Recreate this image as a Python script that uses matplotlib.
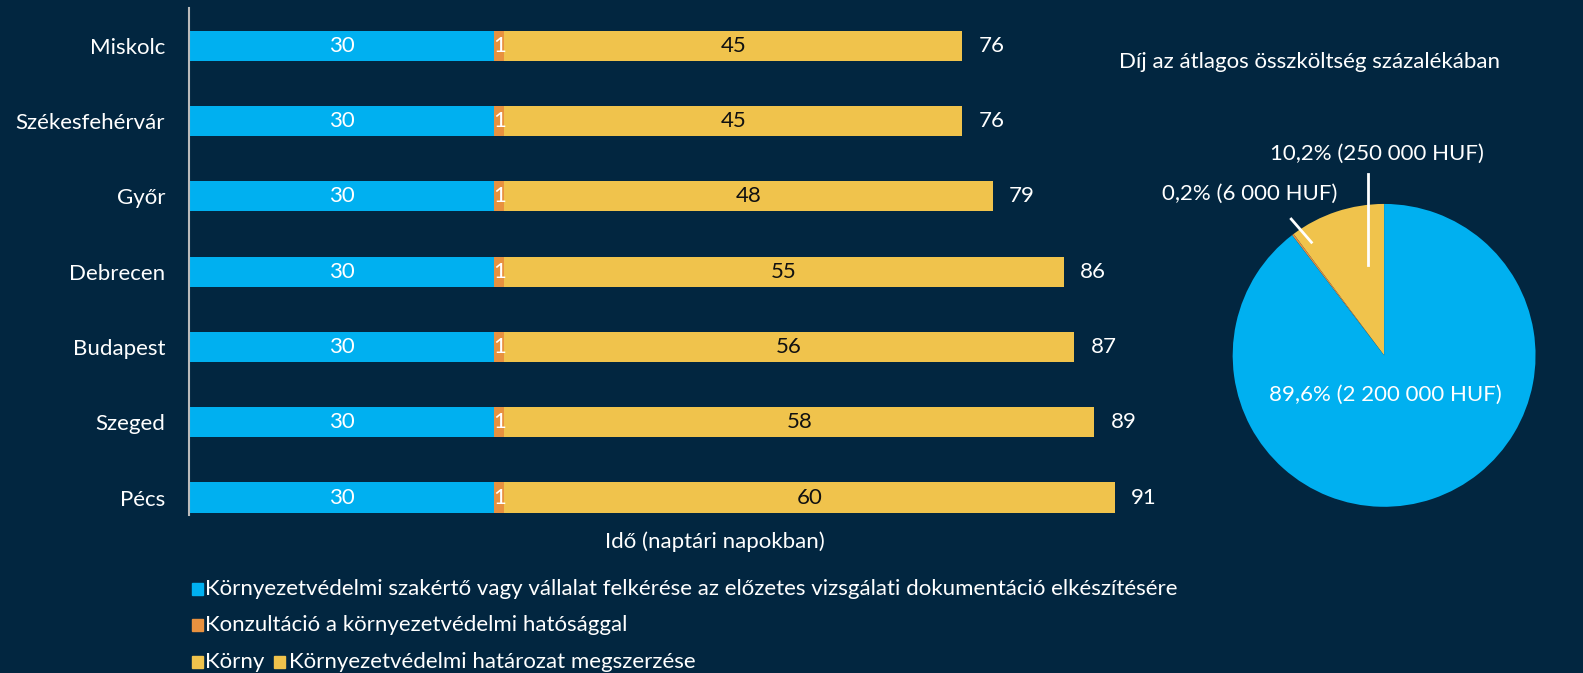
import matplotlib.pyplot as plt

plt.rcParams['font.family'] = ['Lato', 'DejaVu Sans']

cities = ['Miskolc', 'Székesfehérvár', 'Győr', 'Debrecen', 'Budapest', 'Szeged', 'Pécs']
expert = [30, 30, 30, 30, 30, 30, 30]
consult = [1, 1, 1, 1, 1, 1, 1]
permit = [45, 45, 48, 55, 56, 58, 60]
totals = [76, 76, 79, 86, 87, 89, 91]

pie_vals = [10.2, 0.2, 89.6]
pie_labels = ['10,2% (250 000 HUF)', '0,2% (6 000 HUF)', '89,6% (2 200 000 HUF)']

legend_labels = [
    'Környezetvédelmi szakértő vagy vállalat felkérése az előzetes vizsgálati dokumentáció elkészítésére',
    'Konzultáció a környezetvédelmi hatósággal',
    'Környezetvédelmi határozat megszerzése',
]

bg = '#022640'
blue = '#00B0F0'
orange = '#E8913F'
yellow = '#F0C34C'
fs = 16

W, H = 1583, 673
S = W / 1568  # coordinates below were read on the 1568-wide preview


def fx(px):
    return px * S / W


def fy(py):
    return 1 - py * S / H


fig = plt.figure(figsize=(15.83, 6.73), dpi=100, facecolor=bg)

# bar chart
ax_l, ax_r, ax_t, ax_b = 187, 1229, 8, 510
ax = fig.add_axes([fx(ax_l), fy(ax_b), fx(ax_r) - fx(ax_l), fy(ax_t) - fy(ax_b)])
ax.set_facecolor(bg)
y = list(range(len(cities)))
left2 = [a + b for a, b in zip(expert, consult)]
ax.barh(y, expert, height=0.4, color=blue)
ax.barh(y, consult, left=expert, height=0.4, color=orange)
ax.barh(y, permit, left=left2, height=0.4, color=yellow)

for i in y:
    ax.text(expert[i] / 2, i, str(expert[i]), color='white', ha='center', va='center', fontsize=fs)
    ax.text(expert[i] - 0.05, i, str(consult[i]), color='white', ha='left', va='center', fontsize=fs)
    ax.text(left2[i] + permit[i] / 2, i, str(permit[i]), color='#111111', ha='center', va='center', fontsize=fs)
    ax.text(totals[i] + 1.6, i, str(totals[i]), color='white', ha='left', va='center', fontsize=fs)

ax.set_xlim(0, (ax_r - ax_l) / 10.08)
ax.set_ylim(6.23, -0.5)
ax.set_yticks(y)
ax.set_yticklabels(cities, color='white', fontsize=fs)
ax.tick_params(axis='y', length=0, pad=17)
ax.set_xticks([])
for s in ['top', 'right', 'bottom']:
    ax.spines[s].set_visible(False)
ax.spines['left'].set_color('#BBBBBB')
ax.spines['left'].set_linewidth(1.5)
ax.set_xlabel('Idő (naptári napokban)', color='white', fontsize=fs, labelpad=12)

# pie chart
pax = fig.add_axes([fx(1221), fy(502), fx(1521) - fx(1221), fy(202) - fy(502)])
pax.set_facecolor(bg)
pax.pie(pie_vals, colors=[yellow, orange, blue], startangle=90, counterclock=True,
        wedgeprops=dict(linewidth=0))
pax.set_xlim(-1, 1)
pax.set_ylim(-1, 1)
pax.set_aspect('equal')
pax.axis('off')

fig.text(fx(1297), fy(61), 'Díj az átlagos összköltség százalékában', color='white', fontsize=fs,
         ha='center', va='center')
fig.text(fx(1364), fy(152), pie_labels[0], color='white', fontsize=fs, ha='center', va='center')
fig.text(fx(1238), fy(192), pie_labels[1], color='white', fontsize=fs, ha='center', va='center')
fig.text(fx(1372), fy(391), pie_labels[2], color='white', fontsize=fs, ha='center', va='center')
fig.add_artist(plt.Line2D([fx(1355), fx(1355)], [fy(172), fy(262)], color='white', lw=2))
fig.add_artist(plt.Line2D([fx(1279), fx(1299)], [fy(217), fy(240)], color='white', lw=2))

# legend
leg_y = [583, 619, 656]
leg_col = [blue, orange, yellow]
for i in range(3):
    fig.patches.append(plt.Rectangle((fx(190), fy(leg_y[i] + 6)), 11 / W, 12 / H,
                                     transform=fig.transFigure, color=leg_col[i]))
    if i < 2:
        fig.text(fx(203), fy(leg_y[i]), legend_labels[i], color='white', fontsize=fs,
                 ha='left', va='center')
fig.text(fx(203), fy(656), 'Körny', color='white', fontsize=fs, ha='left', va='center')
fig.patches.append(plt.Rectangle((fx(271), fy(662)), 11 / W, 12 / H,
                                 transform=fig.transFigure, color=yellow))
fig.text(fx(286), fy(656), legend_labels[2], color='white', fontsize=fs, ha='left', va='center')

fig.savefig('out.png', dpi=100, facecolor=bg)
